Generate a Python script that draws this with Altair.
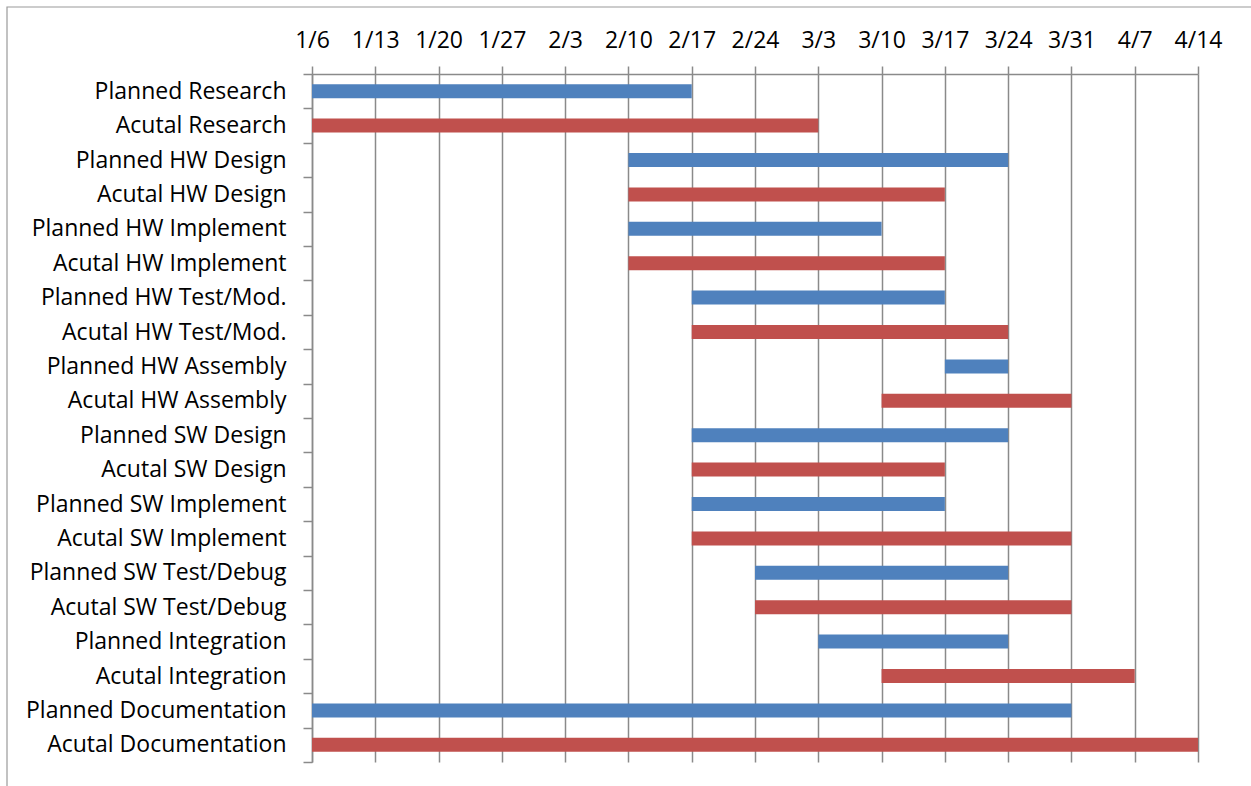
import altair as alt
import pandas as pd

tasks = [
    "Planned Research", "Acutal Research",
    "Planned HW Design", "Acutal HW Design",
    "Planned HW Implement", "Acutal HW Implement",
    "Planned HW Test/Mod.", "Acutal HW Test/Mod.",
    "Planned HW Assembly", "Acutal HW Assembly",
    "Planned SW Design", "Acutal SW Design",
    "Planned SW Implement", "Acutal SW Implement",
    "Planned SW Test/Debug", "Acutal SW Test/Debug",
    "Planned Integration", "Acutal Integration",
    "Planned Documentation", "Acutal Documentation",
]
kinds = ["Planned", "Acutal"] * 10
starts = [
    "2014-01-06", "2014-01-06",
    "2014-02-10", "2014-02-10",
    "2014-02-10", "2014-02-10",
    "2014-02-17", "2014-02-17",
    "2014-03-17", "2014-03-10",
    "2014-02-17", "2014-02-17",
    "2014-02-17", "2014-02-17",
    "2014-02-24", "2014-02-24",
    "2014-03-03", "2014-03-10",
    "2014-01-06", "2014-01-06",
]
ends = [
    "2014-02-17", "2014-03-03",
    "2014-03-24", "2014-03-17",
    "2014-03-10", "2014-03-17",
    "2014-03-17", "2014-03-24",
    "2014-03-24", "2014-03-31",
    "2014-03-24", "2014-03-17",
    "2014-03-17", "2014-03-31",
    "2014-03-24", "2014-03-31",
    "2014-03-24", "2014-04-07",
    "2014-03-31", "2014-04-14",
]
week_ticks = [
    "2014-01-06", "2014-01-13", "2014-01-20", "2014-01-27", "2014-02-03",
    "2014-02-10", "2014-02-17", "2014-02-24", "2014-03-03", "2014-03-10",
    "2014-03-17", "2014-03-24", "2014-03-31", "2014-04-07", "2014-04-14",
]
series_colors = ["#4F81BD", "#C0504D"]

df = pd.DataFrame({"task": tasks, "kind": kinds, "start": starts, "end": ends})
tick_ms = [int(pd.Timestamp(d, tz="UTC").timestamp() * 1000) for d in week_ticks]

FONT = "Open Sans"
GRAY = "#8a8a8a"
FS = 23

bars = alt.Chart(df).mark_bar(size=14).encode(
    y=alt.Y(
        "task:N",
        sort=tasks,
        scale=alt.Scale(paddingInner=0, paddingOuter=0),
        axis=alt.Axis(
            title=None, orient="left", tickBand="extent", ticks=True, tickSize=9,
            tickColor=GRAY, tickWidth=1.5, domainColor=GRAY, domainWidth=1.5,
            labelPadding=17, labelFontSize=FS, labelFont=FONT, labelColor="#000000",
            labelLimit=0, grid=False,
        ),
    ),
    x=alt.X(
        "start:T",
        scale=alt.Scale(type="utc", domain=[tick_ms[0], tick_ms[-1]], nice=False),
        axis=alt.Axis(
            title=None, orient="top", values=tick_ms,
            labelExpr="(utcmonth(datum.value) + 1) + '/' + utcdate(datum.value)",
            grid=True, gridColor=GRAY, gridWidth=1.5, tickSize=8, tickColor=GRAY,
            tickWidth=1.5, domainColor=GRAY, domainWidth=1.5, labelPadding=14,
            labelFontSize=FS, labelFont=FONT, labelColor="#000000", labelFlush=False,
            labelOverlap=False,
        ),
    ),
    x2="end:T",
    color=alt.Color(
        "kind:N",
        scale=alt.Scale(domain=["Planned", "Acutal"], range=series_colors),
        legend=None,
    ),
)

frame = alt.Chart(pd.DataFrame({"f": [0]})).mark_rect(
    fill=None, stroke="#9a9a9a", strokeWidth=1.2
).encode(
    x=alt.value(-305), x2=alt.value(1000), y=alt.value(-67), y2=alt.value(800)
)

chart = alt.layer(frame, bars).properties(
    width=886,
    height=688,
    autosize="none",
    padding={"left": 312, "top": 74, "right": 53, "bottom": 24},
    background="#ffffff",
).configure_view(stroke=None)

chart.save("out.html", embed_options={"renderer": "svg", "actions": False})
